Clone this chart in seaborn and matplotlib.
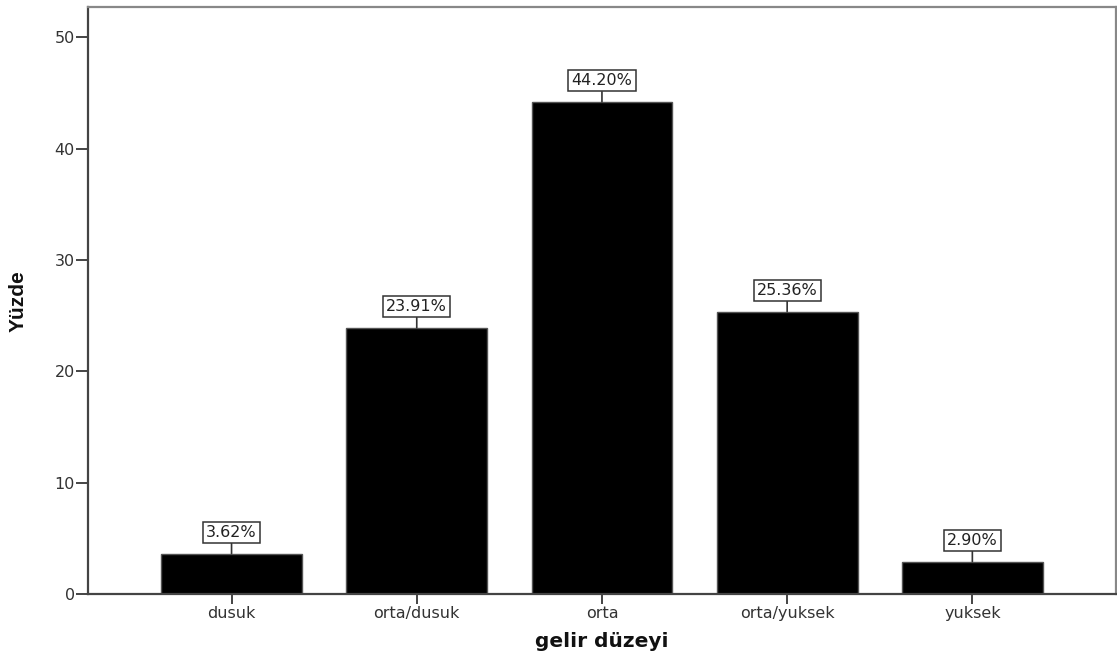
import seaborn as sns
import matplotlib.pyplot as plt
import pandas as pd

# gelir duzeyi dagilimi (yuzde)
categories = ["dusuk", "orta/dusuk", "orta", "orta/yuksek", "yuksek"]
percents = [3.62, 23.91, 44.20, 25.36, 2.90]
y_ticks = [0, 10, 20, 30, 40, 50]

df = pd.DataFrame({"gelir": categories, "yuzde": percents})

sns.set_theme(style="white")
plt.rcParams["font.family"] = ["DejaVu Sans"]

fig = plt.figure(figsize=(11.17, 6.57), dpi=100)
ax = fig.add_axes([0.0788, 0.0959, 0.9202, 0.893])

sns.barplot(data=df, x="gelir", y="yuzde", order=categories, color="black",
            width=0.76, edgecolor="#555555", linewidth=1, saturation=1, ax=ax)

ax.set_xlim(-0.775, 4.775)
ax.set_ylim(0, 52.7)
ax.set_yticks(y_ticks)

for bar, val in zip(ax.patches, percents):
    x = bar.get_x() + bar.get_width() / 2
    ax.annotate(f"{val:.2f}%", xy=(x, bar.get_height()), xytext=(0, 10),
                textcoords="offset points", ha="center", va="bottom",
                fontsize=11.5, color="#222222",
                bbox=dict(boxstyle="square,pad=0.2", fc="white", ec="#333333", lw=1.1),
                arrowprops=dict(arrowstyle="-", color="#333333", lw=1.2,
                                shrinkA=0, shrinkB=0))

for side in ["left", "bottom"]:
    ax.spines[side].set_color("#444444")
    ax.spines[side].set_linewidth(1.6)
for side in ["top", "right"]:
    ax.spines[side].set_color("#888888")
    ax.spines[side].set_linewidth(1.6)

ax.tick_params(axis="y", direction="out", length=8.5, width=1.4, color="#444444",
               labelsize=11.5, labelcolor="#333333", left=True, pad=1)
ax.tick_params(axis="x", direction="out", length=7, width=1.4, color="#444444",
               labelsize=11.5, labelcolor="#333333", bottom=True, pad=2)

ax.set_ylabel("Yüzde", fontsize=15, fontweight="bold",
              family=["Liberation Sans", "DejaVu Sans"], color="#111111")
ax.yaxis.set_label_coords(-0.059, 0.5)
ax.set_xlabel("gelir düzeyi", fontsize=14.5, fontweight="bold", color="#111111")
ax.xaxis.set_label_coords(0.5, -0.064)

fig.savefig("out.png", dpi=100)
